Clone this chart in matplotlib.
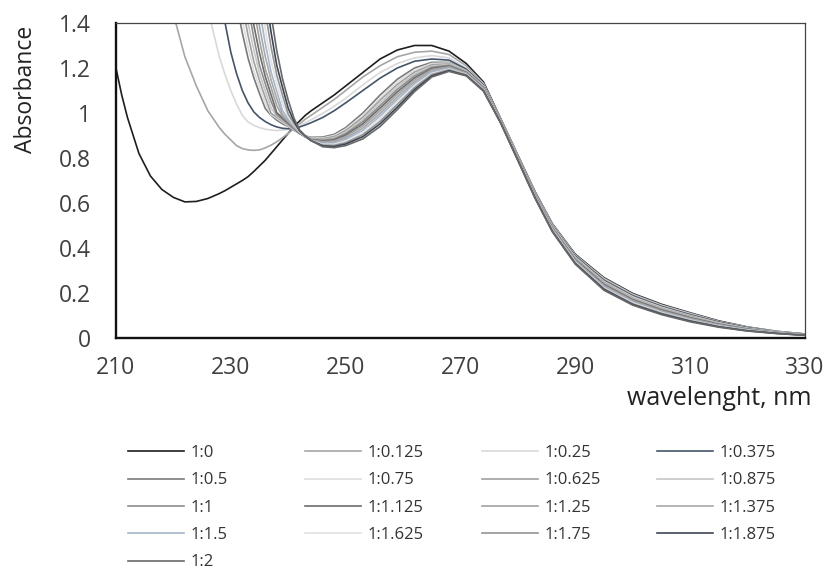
import numpy as np
import matplotlib
matplotlib.use("Agg")
import matplotlib.pyplot as plt

plt.rcParams['font.family'] = ['Open Sans', 'DejaVu Sans']

# --- wavelength grid (nm) shared by all spectra ---
wavelength = [210, 211, 212, 213, 214, 216, 218, 220, 222, 224, 226, 228,
              229, 230, 231, 232, 233, 234, 235, 236, 237, 238, 239, 240,
              241, 242, 243, 244, 246, 248, 250, 253, 256, 259, 262, 265,
              268, 271, 274, 277, 280, 283, 286, 290, 295, 300, 305, 310,
              315, 320, 325, 330]

# absorbance; each list ends at 330 nm and starts
# where the curve enters the plot (earlier points are off scale)
a_1_0 = [1.20, 1.08, 0.98, 0.90, 0.82, 0.72, 0.66, 0.625, 0.605, 0.607, 0.62, 0.642,
         0.655, 0.67, 0.685, 0.70, 0.717, 0.74, 0.765, 0.79, 0.82, 0.85, 0.88, 0.91,
         0.94, 0.965, 0.99, 1.01, 1.045, 1.08, 1.12, 1.18, 1.24, 1.28, 1.30, 1.30,
         1.275, 1.22, 1.138, .975, .812, .650, .508, .372, .268, .198, .150, .112,
         .076, .049, .030, .018]
a_1_0125 = [1.44, 1.25, 1.12, 1.01, 0.935, 0.905, 0.88, 0.855, 0.842, 0.836, 0.834,
            0.836, 0.845, 0.857, 0.872, 0.89, 0.91, 0.93, 0.952, 0.973, 0.99, 1.025,
            1.06, 1.10, 1.16, 1.21, 1.25, 1.27, 1.275, 1.26, 1.21, 1.132,
            .974, .810, .648, .506, .369, .265, .195, .147, .110, .074, .048, .029, .018]
a_1_025 = [1.46, 1.25, 1.17, 1.10, 1.04, 0.99, 0.96, 0.945, 0.935, 0.928, 0.924, 0.922,
           0.924, 0.928, 0.935, 0.945, 0.957, 0.97, 0.998, 1.03, 1.065, 1.125, 1.18,
           1.22, 1.245, 1.255, 1.245, 1.20, 1.127,
           .972, .809, .646, .504, .366, .261, .191, .144, .107, .072, .047, .029, .017]
a_1_0375 = [1.52, 1.40, 1.27, 1.175, 1.10, 1.045, 1.005, 0.98, 0.962, 0.948, 0.938,
            0.932, 0.93, 0.932, 0.938, 0.947, 0.957, 0.98, 1.01, 1.045, 1.10, 1.155,
            1.20, 1.23, 1.24, 1.235, 1.195, 1.124,
            .971, .807, .644, .501, .364, .257, .188, .141, .104, .071, .046, .028, .017]
a_1_05 = [1.487, 1.356, 1.244, 1.157, 1.086, 1.02, 0.99, 0.968, 0.952, 0.94, 0.923,
          0.909, 0.898, 0.892, 0.893, 0.905, 0.935, 1.00, 1.08, 1.15, 1.20, 1.225,
          1.225, 1.19, 1.121,
          .970, .806, .642, .499, .361, .254, .185, .138, .102, .069, .044, .027, .016]
a_1_075 = [1.41, 1.294, 1.188, 1.115, 1.042, 0.993, 0.976, 0.959, 0.942, 0.924, 0.908,
           0.897, 0.889, .889, .900, .928, .990, 1.068, 1.139, 1.191, 1.220, 1.222,
           1.188, 1.119,
           .969, .804, .641, .497, .358, .250, .182, .136, .099, .067, .043, .027, .016]
a_1_0625 = [1.48, 1.345, 1.229, 1.144, 1.069, 0.999, 0.981, 0.963, 0.945, 0.926, 0.909,
            0.896, 0.887, .886, .895, .922, .981, 1.057, 1.127, 1.182, 1.214, 1.218,
            1.186, 1.117,
            .967, .803, .639, .494, .355, .247, .178, .133, .097, .065, .042, .026, .016]
a_1_0875 = [1.555, 1.40, 1.281, 1.176, 1.099, 1.023, 0.986, 0.967, 0.947, 0.928, 0.909,
            0.895, 0.885, .882, .890, .915, .971, 1.045, 1.116, 1.174, 1.209, 1.215,
            1.184, 1.115,
            .966, .801, .637, .492, .353, .243, .175, .130, .094, .064, .041, .026, .015]
a_1_1 = [1.475, 1.335, 1.212, 1.130, 1.052, 0.993, 0.972, 0.951, 0.930, 0.909, 0.894,
         0.883, .879, .885, .908, .962, 1.033, 1.105, 1.165, 1.203, 1.212, 1.182, 1.113,
         .965, .800, .635, .490, .350, .240, .172, .127, .092, .062, .040, .025, .015]
a_1_1125 = [1.552, 1.391, 1.266, 1.162, 1.082, 1.002, 0.978, 0.955, 0.932, 0.910, 0.893,
            0.881, .875, .880, .902, .952, 1.022, 1.094, 1.156, 1.198, 1.208, 1.180, 1.111,
            .964, .798, .633, .488, .347, .236, .169, .124, .089, .060, .039, .024, .015]
a_1_125 = [1.467, 1.323, 1.196, 1.114, 1.033, 0.985, 0.96, 0.935, 0.912, 0.894, 0.880,
           .872, .876, .895, .943, 1.010, 1.083, 1.148, 1.193, 1.205, 1.178, 1.109,
           .962, .797, .631, .486, .344, .233, .166, .121, .087, .058, .038, .024, .014]
a_1_1375 = [1.55, 1.383, 1.251, 1.148, 1.064, 0.994, 0.966, 0.938, 0.913, 0.894, 0.879,
            .868, .871, .888, .933, .998, 1.071, 1.139, 1.187, 1.202, 1.175, 1.107,
            .961, .796, .629, .483, .342, .230, .162, .118, .084, .057, .037, .023, .014]
a_1_15 = [1.458, 1.309, 1.183, 1.097, 1.011, 0.973, 0.943, 0.915, 0.894, 0.878,
          .864, .866, .882, .923, .987, 1.060, 1.130, 1.182, 1.198, 1.173, 1.105,
          .960, .794, .628, .481, .339, .226, .159, .116, .082, .055, .036, .022, .014]
a_1_1625 = [1.546, 1.372, 1.232, 1.132, 1.044, 0.983, 0.948, 0.917, 0.895, 0.877,
            .861, .861, .875, .914, .975, 1.049, 1.121, 1.176, 1.195, 1.171, 1.103,
            .959, .792, .626, .479, .336, .222, .156, .113, .079, .053, .034, .022, .013]
a_1_175 = [1.451, 1.294, 1.169, 1.079, 0.995, 0.954, 0.919, 0.896, 0.877,
           .857, .856, .868, .904, .963, 1.038, 1.113, 1.171, 1.192, 1.169, 1.101,
           .957, .791, .624, .476, .333, .219, .152, .110, .077, .051, .033, .021, .013]
a_1_1875 = [1.54, 1.36, 1.212, 1.114, 1.021, 0.963, 0.921, 0.897, 0.877,
            .854, .851, .862, .895, .952, 1.026, 1.104, 1.165, 1.188, 1.167, 1.099,
            .956, .790, .622, .474, .331, .216, .149, .107, .075, .050, .032, .021, .012]
a_1_2 = [1.44, 1.277, 1.152, 1.057, 0.977, 0.924, 0.898, 0.877,
         .850, .846, .855, .885, .940, 1.015, 1.095, 1.160, 1.185, 1.165, 1.097,
         .955, .788, .620, .472, .328, .212, .146, .104, .072, .048, .031, .020, .012]

labels = ['1:0', '1:0.125', '1:0.25', '1:0.375', '1:0.5', '1:0.75', '1:0.625',
          '1:0.875', '1:1', '1:1.125', '1:1.25', '1:1.375', '1:1.5', '1:1.625',
          '1:1.75', '1:1.875', '1:2']
series = [a_1_0, a_1_0125, a_1_025, a_1_0375, a_1_05, a_1_075, a_1_0625, a_1_0875,
          a_1_1, a_1_1125, a_1_125, a_1_1375, a_1_15, a_1_1625, a_1_175, a_1_1875, a_1_2]
colors = ['#1e1e1e', '#a6a6a6', '#d9d9d9', '#44546a', '#7a7a7a', '#dedede', '#a0a0a0',
          '#c6c6c6', '#8e8e8e', '#6c6c6c', '#a2a2a2', '#a8a8a8', '#a6b6cc', '#e2e2e2',
          '#939393', '#3c4554', '#686868']

wl = np.array(wavelength, dtype=float)

fig = plt.figure(figsize=(8.26, 5.79), dpi=100)
ax = fig.add_axes([0.1404, 0.4162, 0.8342, 0.5441])

handles = []
for lab, vals, col in zip(labels, series, colors):
    y = np.full(len(wl), np.nan)
    y[len(wl) - len(vals):] = vals
    h, = ax.plot(wl, y, color=col, lw=1.2, label=lab, solid_joinstyle='round')
    handles.append(h)

ax.set_xlim(210, 330)
ax.set_ylim(0, 1.4)
ax.set_xticks(range(210, 331, 20))
ax.set_yticks([0, 0.2, 0.4, 0.6, 0.8, 1.0, 1.2, 1.4])
ax.set_yticklabels(['0', '0.2', '0.4', '0.6', '0.8', '1', '1.2', '1.4'])
ax.tick_params(axis='both', length=0, labelsize=16.5, labelcolor='#404040')
ax.tick_params(axis='x', pad=13)
ax.tick_params(axis='y', pad=18)

for side in ['left', 'bottom']:
    ax.spines[side].set_linewidth(1.7)
    ax.spines[side].set_color('#111111')
for side in ['top', 'right']:
    ax.spines[side].set_linewidth(0.9)
    ax.spines[side].set_color('#444444')

fig.text(0.031, 0.845, 'Absorbance', rotation=90, ha='center', va='center',
         fontsize=16.5, color='#222222')
fig.text(0.983, 0.3126, 'wavelenght, nm', ha='right', va='center',
         fontsize=18, color='#222222')

# legend: 4 columns filled row by row, like the spreadsheet legend
col_x = [128, 305, 482, 657]
for c in range(4):
    idx = list(range(c, len(labels), 4))
    fig.legend([handles[i] for i in idx], [labels[i] for i in idx],
               loc='upper left', bbox_to_anchor=(col_x[c] / 826, 1 - 445 / 579),
               bbox_transform=fig.transFigure, frameon=False, borderpad=0,
               borderaxespad=0, fontsize=12, handlelength=3.35, handletextpad=0.42,
               labelspacing=0.68, labelcolor='#333333')

fig.savefig('out.png', dpi=100)
